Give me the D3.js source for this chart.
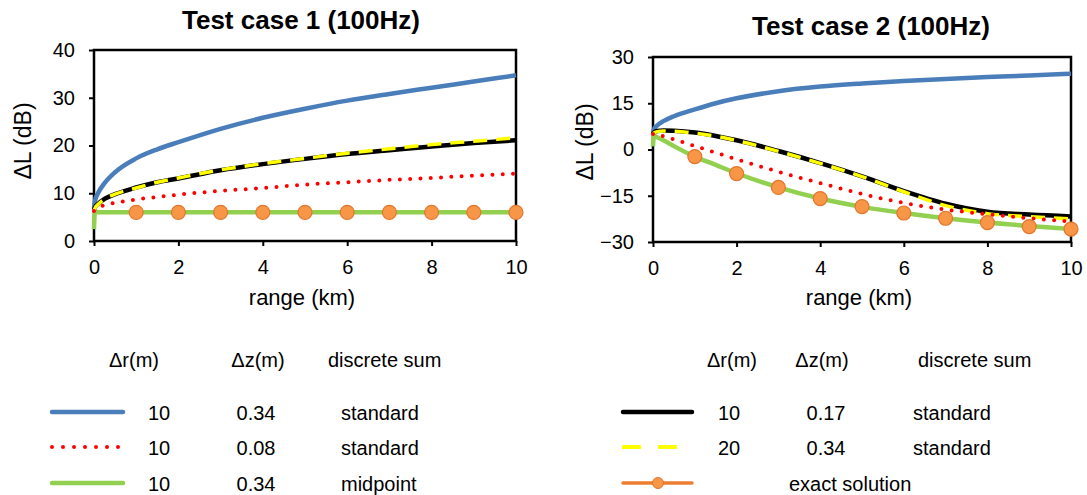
<!DOCTYPE html>
<html>
<head>
<meta charset="utf-8">
<script src="https://cdn.jsdelivr.net/npm/d3@7"></script>
<style>
  html, body { margin: 0; padding: 0; background: #fff; }
  svg { display: block; font-family: "Liberation Sans", Arial, sans-serif; }
</style>
</head>
<body>
<svg id="chart" width="1087" height="495"></svg>
<script>
// ---------- DATA ----------
const rangeKm = [0, 0.02, 0.1, 0.25, 0.5, 1, 1.5, 2, 3, 4, 5, 6, 7, 8, 9, 10];
const exactKm = [1, 2, 3, 4, 5, 6, 7, 8, 9, 10];
const xTicks = [0, 2, 4, 6, 8, 10];

// Test case 1
const case1Title = "Test case 1 (100Hz)";
const case1YTicks = [0, 10, 20, 30, 40];
const case1Blue   = [6.8, 8.3, 10.1, 12.1, 14.4, 17.3, 19.2, 20.7, 23.5, 25.8, 27.7, 29.4, 30.8, 32.1, 33.4, 34.7];
const case1Red    = [6.3, 6.6, 7.0, 7.5, 8.0, 8.7, 9.2, 9.7, 10.5, 11.1, 11.8, 12.3, 12.8, 13.2, 13.7, 14.1];
const case1Green  = [2.5, 6.0, 6.0, 6.0, 6.0, 6.0, 6.0, 6.0, 6.0, 6.0, 6.0, 6.0, 6.0, 6.0, 6.0, 6.0];
const case1Black  = [6.5, 7.0, 7.8, 8.8, 9.8, 11.2, 12.3, 13.1, 14.8, 16.1, 17.2, 18.2, 19.0, 19.8, 20.5, 21.1];
const case1Yellow = [6.2, 6.8, 7.7, 8.8, 9.8, 11.1, 12.3, 13.2, 14.9, 16.2, 17.3, 18.4, 19.3, 20.2, 20.9, 21.6];
const case1Exact  = [6.0, 6.0, 6.0, 6.0, 6.0, 6.0, 6.0, 6.0, 6.0, 6.0];

// Test case 2
const case2Title = "Test case 2 (100Hz)";
const case2YTicks = [-30, -15, 0, 15, 30];
const case2Blue   = [5.5, 6.5, 7.8, 9.2, 10.8, 13.0, 15.0, 16.6, 18.9, 20.4, 21.4, 22.2, 22.9, 23.5, 24.0, 24.6];
const case2Red    = [5.0, 5.2, 5.0, 4.3, 3.3, 1.1, -1.0, -3.2, -7.2, -10.9, -14.4, -17.3, -19.5, -21.0, -22.3, -23.3];
const case2Green  = [1.0, 4.5, 4.0, 3.0, 1.1, -2.3, -5.0, -7.7, -12.3, -15.9, -18.6, -20.6, -22.3, -23.7, -24.8, -25.8];
const case2Black  = [5.0, 5.5, 6.0, 6.2, 6.1, 5.5, 4.4, 3.0, -0.5, -4.4, -8.7, -13.5, -17.6, -20.2, -21.1, -21.7];
const case2Yellow = [4.8, 5.3, 5.8, 6.0, 5.9, 5.3, 4.3, 2.9, -0.6, -4.5, -8.8, -13.7, -18.2, -20.8, -21.8, -22.5];
const case2Exact  = [-2.3, -7.8, -12.3, -15.9, -18.5, -20.6, -22.3, -23.7, -25.0, -25.8];

const xLabel = "range (km)";
const yLabel = "ΔL (dB)";

// Legend contents
const legendHeaders = ["Δr(m)", "Δz(m)", "discrete sum"];
const legendLeftDr  = ["10", "10", "10"];
const legendLeftDz  = ["0.34", "0.08", "0.34"];
const legendLeftSum = ["standard", "standard", "midpoint"];
const legendRightDr  = ["10", "20", ""];
const legendRightDz  = ["0.17", "0.34", ""];
const legendRightSum = ["standard", "standard", ""];
const exactLabel = "exact solution";

// ---------- STYLES ----------
const C = {
  blue: "#4a7ebb", red: "#ff0000", green: "#92d050",
  black: "#000000", yellow: "#ffff00", orange: "#ed7d31",
  markerFill: "#f79646", markerStroke: "#e3762d"
};

const svg = d3.select("#chart");

function drawChart(cfg) {
  const x = d3.scaleLinear().domain([0, 10]).range([cfg.left, cfg.right]);
  const y = d3.scaleLinear().domain(cfg.yDomain).range([cfg.bottom, cfg.top]);
  const g = svg.append("g");

  const ax = g.append("g").attr("transform", `translate(0,${cfg.bottom})`)
    .call(d3.axisBottom(x).tickValues(xTicks).tickSize(5).tickPadding(14).tickFormat(d3.format("d")));
  const ay = g.append("g").attr("transform", `translate(${cfg.left},0)`)
    .call(d3.axisLeft(y).tickValues(cfg.yTicks).tickSize(5).tickPadding(14).tickFormat(d3.format("d")));
  [ax, ay].forEach(a => {
    a.select(".domain").remove();
    a.selectAll(".tick line").attr("stroke", "#000").attr("stroke-width", 2);
    a.selectAll(".tick text").attr("fill", "#000").style("font-size", "20px")
      .style("font-family", '"Liberation Sans", Arial, sans-serif');
  });

  g.append("rect").attr("x", cfg.left).attr("y", cfg.top)
    .attr("width", cfg.right - cfg.left).attr("height", cfg.bottom - cfg.top)
    .attr("fill", "none").attr("stroke", "#000").attr("stroke-width", 2.5);

  const line = d3.line().x((d, i) => x(rangeKm[i])).y(d => y(d)).curve(d3.curveMonotoneX);

  g.append("path").datum(cfg.blue).attr("d", line).attr("fill", "none")
    .attr("stroke", C.blue).attr("stroke-width", 4.5);
  g.append("path").datum(cfg.green).attr("d", line).attr("fill", "none")
    .attr("stroke", C.green).attr("stroke-width", 4.5);
  g.append("path").datum(cfg.black).attr("d", line).attr("fill", "none")
    .attr("stroke", C.black).attr("stroke-width", 4.5);
  g.append("path").datum(cfg.yellow).attr("d", line).attr("fill", "none")
    .attr("stroke", C.yellow).attr("stroke-width", 3.5).attr("stroke-dasharray", "14 9");
  g.append("path").datum(cfg.red).attr("d", line).attr("fill", "none")
    .attr("stroke", C.red).attr("stroke-width", 4).attr("stroke-linecap", "round")
    .attr("stroke-dasharray", "0 10.3");
  g.selectAll("circle.exact").data(cfg.exact).enter().append("circle")
    .attr("class", "exact")
    .attr("cx", (d, i) => x(exactKm[i])).attr("cy", d => y(d)).attr("r", 7)
    .attr("fill", C.markerFill).attr("stroke", C.markerStroke).attr("stroke-width", 1.2);

  svg.append("text").attr("x", cfg.titleX).attr("y", cfg.titleY).attr("text-anchor", "middle")
    .style("font-size", "26px").style("font-weight", "bold").text(cfg.title);
  svg.append("text").attr("x", (cfg.left + cfg.right) / 2 - 3).attr("y", 305).attr("text-anchor", "middle")
    .style("font-size", "22px").text(xLabel);
  svg.append("text").attr("transform", `translate(${cfg.yLabelX},${cfg.yLabelY}) rotate(-90)`)
    .attr("text-anchor", "middle").attr("dy", "0.35em")
    .style("font-size", "23px").text(yLabel);
}

drawChart({
  left: 94, right: 516, top: 50, bottom: 241, yDomain: [0, 40], yTicks: case1YTicks,
  blue: case1Blue, red: case1Red, green: case1Green, black: case1Black, yellow: case1Yellow, exact: case1Exact,
  title: case1Title, titleX: 301, titleY: 29, yLabelX: 23, yLabelY: 141
});
drawChart({
  left: 653, right: 1071, top: 57, bottom: 242, yDomain: [-30, 30], yTicks: case2YTicks,
  blue: case2Blue, red: case2Red, green: case2Green, black: case2Black, yellow: case2Yellow, exact: case2Exact,
  title: case2Title, titleX: 871, titleY: 35, yLabelX: 585, yLabelY: 142
});

// ---------- LEGENDS ----------
const lg = svg.append("g").style("font-size", "20px").attr("fill", "#000");
const rowsY = [412, 447, 483];

lg.append("text").attr("x", 134).attr("y", 367).attr("text-anchor", "middle").text(legendHeaders[0]);
lg.append("text").attr("x", 258).attr("y", 367).attr("text-anchor", "middle").text(legendHeaders[1]);
lg.append("text").attr("x", 328).attr("y", 367).text(legendHeaders[2]);
const leftStyles = [
  { stroke: C.blue, w: 4.5, dash: null, x2: 123 },
  { stroke: C.red, w: 4, dash: "0 11", x2: 119 },
  { stroke: C.green, w: 4.5, dash: null, x2: 123 }
];
leftStyles.forEach((s, i) => {
  const ln = lg.append("line").attr("x1", 52).attr("x2", s.x2).attr("y1", rowsY[i]).attr("y2", rowsY[i])
    .attr("stroke", s.stroke).attr("stroke-width", s.w).attr("stroke-linecap", "round");
  if (s.dash) ln.attr("stroke-dasharray", s.dash);
  lg.append("text").attr("x", 159).attr("y", rowsY[i] + 8).attr("text-anchor", "middle").text(legendLeftDr[i]);
  lg.append("text").attr("x", 256).attr("y", rowsY[i] + 8).attr("text-anchor", "middle").text(legendLeftDz[i]);
  lg.append("text").attr("x", 341).attr("y", rowsY[i] + 8).text(legendLeftSum[i]);
});

lg.append("text").attr("x", 732).attr("y", 367).attr("text-anchor", "middle").text(legendHeaders[0]);
lg.append("text").attr("x", 822).attr("y", 367).attr("text-anchor", "middle").text(legendHeaders[1]);
lg.append("text").attr("x", 918).attr("y", 367).text(legendHeaders[2]);
lg.append("line").attr("x1", 623).attr("x2", 692).attr("y1", rowsY[0]).attr("y2", rowsY[0])
  .attr("stroke", C.black).attr("stroke-width", 4.5).attr("stroke-linecap", "round");
lg.append("line").attr("x1", 622).attr("x2", 680).attr("y1", rowsY[1]).attr("y2", rowsY[1])
  .attr("stroke", C.yellow).attr("stroke-width", 4).attr("stroke-dasharray", "19 17");
lg.append("line").attr("x1", 623).attr("x2", 692).attr("y1", rowsY[2]).attr("y2", rowsY[2])
  .attr("stroke", C.orange).attr("stroke-width", 3.5).attr("stroke-linecap", "round");
lg.append("circle").attr("cx", 658).attr("cy", rowsY[2]).attr("r", 5.5)
  .attr("fill", C.markerFill).attr("stroke", C.markerStroke).attr("stroke-width", 1);
[0, 1].forEach(i => {
  lg.append("text").attr("x", 729).attr("y", rowsY[i] + 8).attr("text-anchor", "middle").text(legendRightDr[i]);
  lg.append("text").attr("x", 826).attr("y", rowsY[i] + 8).attr("text-anchor", "middle").text(legendRightDz[i]);
  lg.append("text").attr("x", 913).attr("y", rowsY[i] + 8).text(legendRightSum[i]);
});
lg.append("text").attr("x", 789).attr("y", rowsY[2] + 8).text(exactLabel);
</script>
</body>
</html>
